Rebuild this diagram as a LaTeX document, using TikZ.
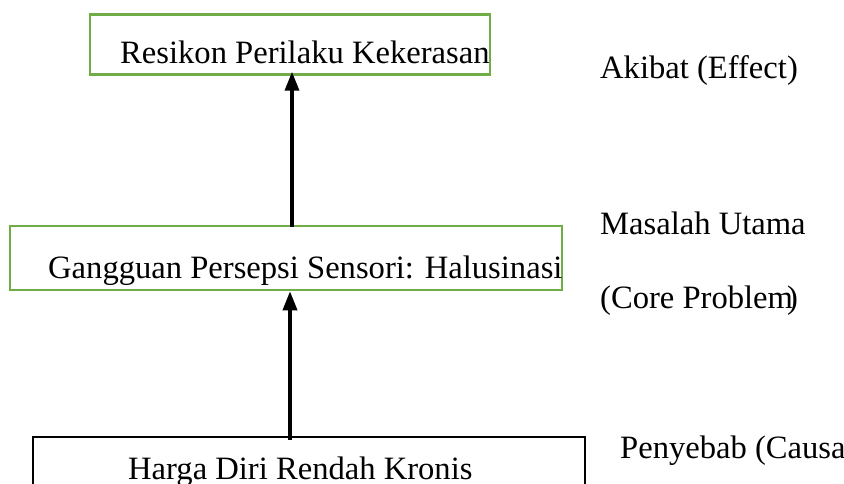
\documentclass[tikz,border=0pt]{standalone}
\usepackage{fontspec}
\setmainfont{Liberation Serif}
\usetikzlibrary{arrows.meta}
\definecolor{boxgreen}{RGB}{112,173,71}
\begin{document}
\begin{tikzpicture}[x=1bp,y=-1bp,
  greenbox/.style={draw=boxgreen,line width=2.5bp,inner sep=0pt},
  blackbox/.style={draw=black,line width=2bp,inner sep=0pt},
  txt/.style={anchor=base west,inner sep=0pt,font=\fontsize{32.6bp}{39bp}\selectfont},
  uparrow/.style={line width=3.5bp,-{Triangle[width=14bp,length=19bp]}}]
\useasboundingbox (0,0) rectangle (844,484);
% boxes
\node[greenbox,minimum width=400bp,minimum height=60bp] (effect) at (290,44.5) {};
\node[greenbox,minimum width=552bp,minimum height=64bp] (core) at (286,258) {};
\node[blackbox,minimum width=552bp,minimum height=80bp] (cause) at (309,477) {};
% box texts
\node[txt] (teffect) at (120,64) {Resikon Perilaku Kekerasan};
\node[txt] (tcore) at (48,279) {Gangguan Persepsi Sensori: Halusinasi};
\node[txt] (tcause) at (128,479) {Harga Diri Rendah Kronis};
% side labels
\node[txt] (leffect) at (600,79) {Akibat (Effect)};
\node[txt] (lcore1) at (600,235) {Masalah Utama};
\node[txt] (lcore2) at (600,309) {(Core Problem\kern-6bp)};
\node[txt] (lcause) at (620,458) {Penyebab (Causa};
% arrows
\coordinate (a1) at (292,0);
\coordinate (a2) at (290,0);
\draw[uparrow] ([yshift=-2bp]core.north -| a1) -- ([yshift=4bp]effect.south -| a1);
\draw[uparrow] ([yshift=-4bp]cause.north -| a2) -- ([yshift=0bp]core.south -| a2);
\end{tikzpicture}
\end{document}
